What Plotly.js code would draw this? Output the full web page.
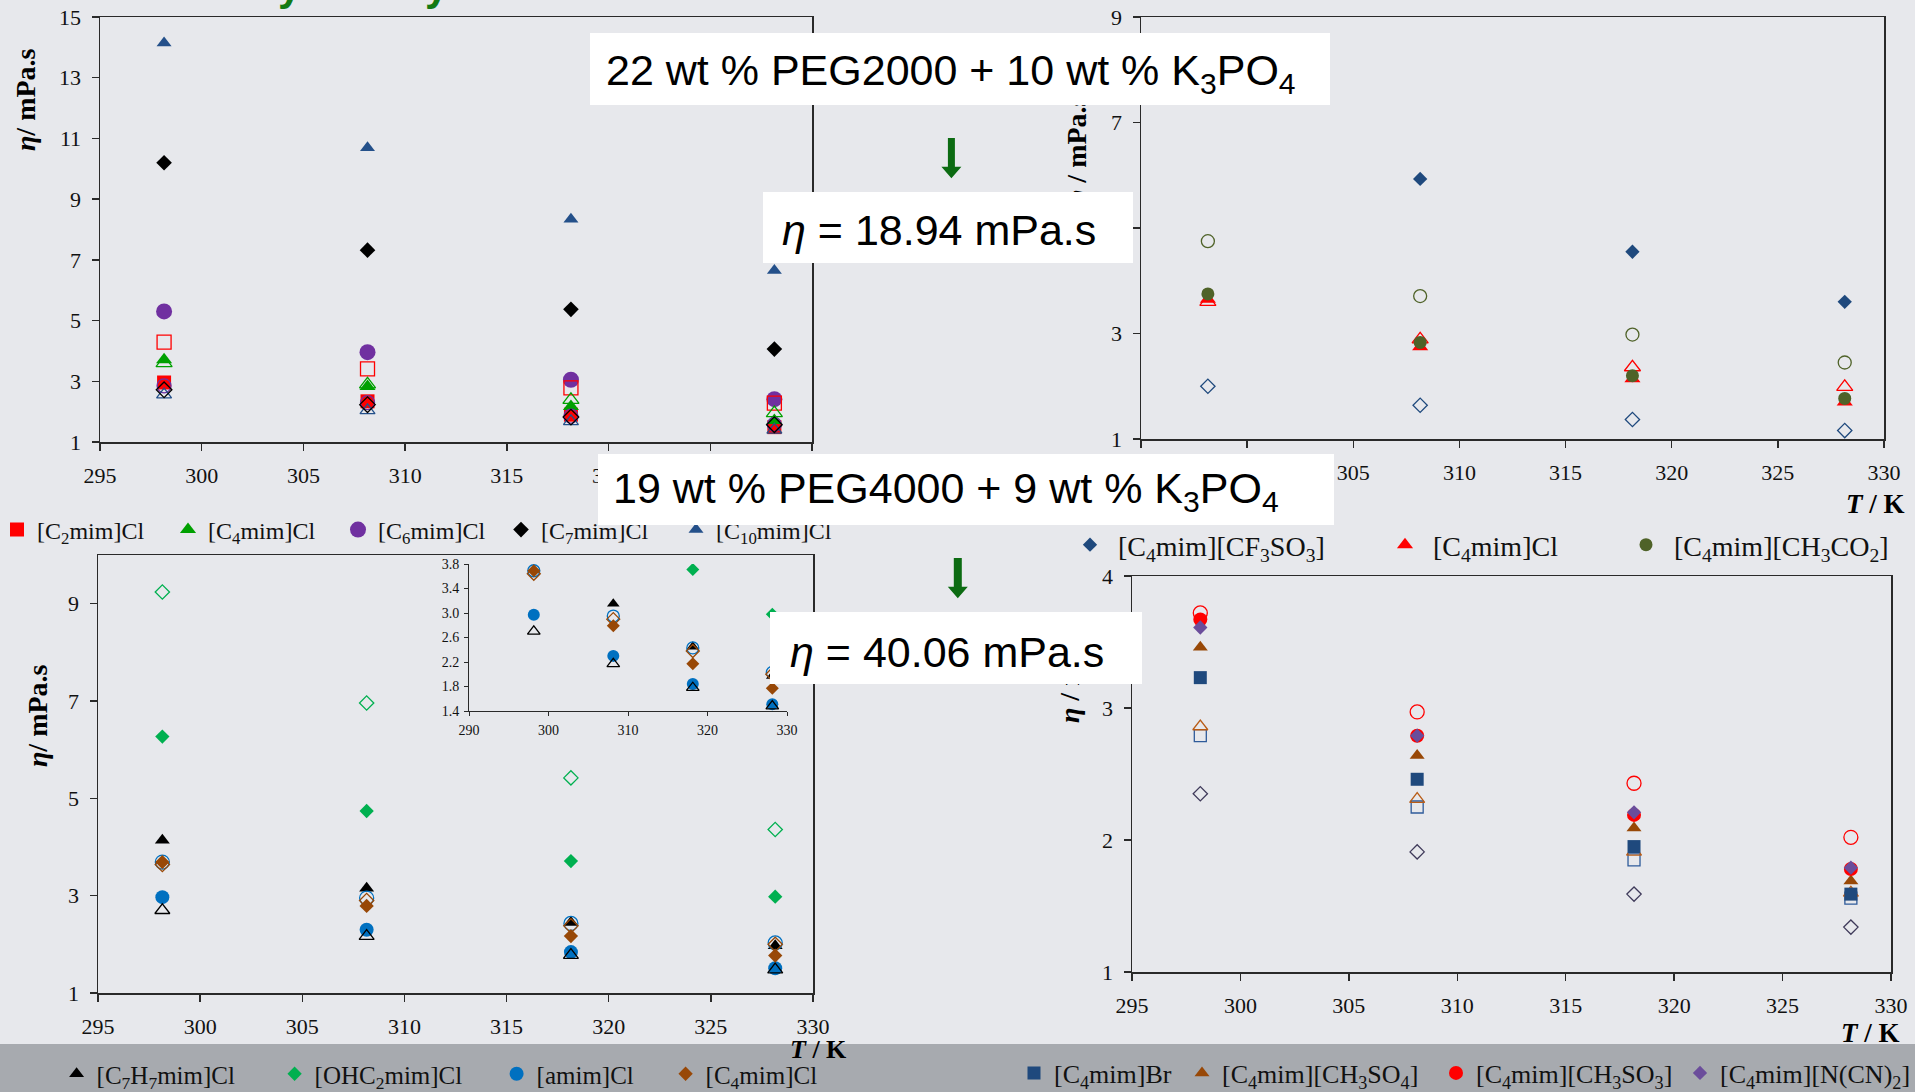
<!DOCTYPE html>
<html><head><meta charset="utf-8">
<script src="https://cdn.plot.ly/plotly-3.0.1.min.js"></script>
<style>html,body{margin:0;padding:0;background:#e7e8ec;overflow:hidden}#chart{width:1915px;height:1092px}</style>
</head><body><div id="chart"></div>
<script>
// ---------------- data (T in K, viscosity in mPa.s) ----------------
const temps = [298.15, 308.15, 318.15, 328.15];

// Panel A (top-left): chloride ILs, filled and open series
const A_C2mimCl_f  = [2.96, 2.34, 1.90, 1.49];
const A_C2mimCl_o  = [4.29, 3.41, 2.78, 2.28];
const A_C4mimCl_f  = [3.71, 2.83, 2.17, 1.71];
const A_C4mimCl_o  = [3.60, 2.90, 2.39, 1.95];
const A_C6mimCl_f  = [5.30, 3.96, 3.05, 2.41];
const A_C6mimCl_o  = [2.85, 2.30, 1.85, 1.58];
const A_C7mimCl_f  = [10.20, 7.32, 5.37, 4.06];
const A_C7mimCl_o  = [2.72, 2.23, 1.82, 1.57];
const A_C10mimCl_f = [14.14, 10.69, 8.34, 6.65];
const A_C10mimCl_o = [2.56, 2.04, 1.68, 1.40];

// Panel B (top-right): [C4mim] anions
const B_CF3SO3_f  = [null, 5.93, 4.55, 3.60];
const B_CF3SO3_o  = [2.00, 1.64, 1.37, 1.16];
const B_Cl_f      = [3.65, 2.75, 2.14, 1.70];
const B_Cl_o      = [3.60, 2.89, 2.36, 1.99];
const B_CH3CO2_f  = [3.75, 2.83, 2.20, 1.77];
const B_CH3CO2_o  = [4.75, 3.71, 2.98, 2.45];

// Panel C (bottom-left, with inset)
const C_C7H7mimCl_f = [4.14, 3.15, 2.45, 1.97];
const C_C7H7mimCl_o = [2.70, 2.17, 1.78, 1.48];
const C_OHC2mimCl_f = [6.27, 4.74, 3.71, 2.98];
const C_OHC2mimCl_o = [9.24, 6.96, 5.42, 4.36];
const C_amimCl_f    = [2.97, 2.30, 1.84, 1.51];
const C_amimCl_o    = [3.69, 2.95, 2.43, 2.03];
const C_C4mimCl_f   = [3.69, 2.79, 2.17, 1.77];
const C_C4mimCl_o   = [3.64, 2.90, 2.38, 2.00];

// Panel D (bottom-right)
const D_Br_f     = [3.23, 2.46, 1.95, 1.59];
const D_Br_o     = [2.79, 2.25, 1.85, 1.56];
const D_CH3SO4_f = [3.46, 2.64, 2.09, 1.69];
const D_CH3SO4_o = [2.86, 2.31, 1.91, 1.60];
const D_CH3SO3_f = [3.67, 2.79, 2.19, 1.78];
const D_CH3SO3_o = [3.72, 2.97, 2.43, 2.02];
const D_NCN2_f   = [3.61, 2.79, 2.21, 1.79];
const D_NCN2_o   = [2.35, 1.91, 1.59, 1.34];

// tick values / labels (labels hidden behind the white text boxes are left blank)
const tempTicks     = [295, 300, 305, 310, 315, 320, 325, 330];
const tempLabelsA   = ['295','300','305','310','315','320','',''];
const tempLabelsB   = ['','','305','310','315','320','325','330'];
const tempLabels    = ['295','300','305','310','315','320','325','330'];
const etaTicksA     = [1, 3, 5, 7, 9, 11, 13, 15];
const etaTicksB     = [1, 3, 5, 7, 9];
const etaLabelsB    = ['1','3','','7','9'];
const etaTicksC     = [1, 3, 5, 7, 9];
const etaTicksD     = [1, 2, 3, 4];
const insetTicksX   = [290, 300, 310, 320, 330];
const insetTicksY   = [1.4, 1.8, 2.2, 2.6, 3.0, 3.4, 3.8];
const insetLabelsY  = ['1.4','1.8','2.2','2.6','3.0','3.4','3.8'];

// ---------------- helpers ----------------
const W = 1915, H = 1092;
const px = v => v / W;
const py = v => 1 - v / H;
const serif = 'Liberation Serif, Times New Roman, serif';
const sans = 'Liberation Sans, Arial, sans-serif';

function mk(xa, ya, yv, sym, color, size, name, extra) {
  const open = sym.indexOf('-open') >= 0;
  return Object.assign({
    type:'scatter', mode:'markers', x: temps, y: yv, xaxis: xa, yaxis: ya, name: name,
    marker:{symbol: sym, size: size, color: color, line:{width: open ? 1.3 : 0, color: color}},
    showlegend:false, hoverinfo:'skip'
  }, extra || {});
}
function leg(l, w, rank) { const o = {showlegend:true, legend:l, legendrank:rank}; if (w) o.legendwidth = w; return o; }

const red='#ff0000', green='#00a000', purple='#7030a0', black='#000000', navy='#24508a';
const dblue='#1f497d', olive='#4f6228', brown='#984807', g2='#00b050', lblue='#0070c0';

const traces = [
  // Panel A
  mk('x','y',A_C2mimCl_f,'square',red,14,'[C<sub>2</sub>mim]Cl',leg('legend',126,1)),
  mk('x','y',A_C4mimCl_f,'triangle-up',green,14,'[C<sub>4</sub>mim]Cl',leg('legend',125,2)),
  mk('x','y',A_C6mimCl_f,'circle',purple,16,'[C<sub>6</sub>mim]Cl',leg('legend',118,3)),
  mk('x','y',A_C7mimCl_f,'diamond',black,12,'[C<sub>7</sub>mim]Cl',leg('legend',130,4)),
  mk('x','y',A_C10mimCl_f,'triangle-up',navy,13,'[C<sub>10</sub>mim]Cl',leg('legend',null,5)),
  mk('x','y',A_C2mimCl_o,'square-open',red,14,'[C2mim]Cl (open)'),
  mk('x','y',A_C6mimCl_o,'circle-open',purple,14,'[C6mim]Cl (open)'),
  mk('x','y',A_C4mimCl_o,'triangle-up-open',green,14,'[C4mim]Cl (open)'),
  mk('x','y',A_C10mimCl_o,'triangle-up-open',navy,13,'[C10mim]Cl (open)'),
  mk('x','y',A_C7mimCl_o,'diamond-open',black,12,'[C7mim]Cl (open)'),
  // Panel B
  mk('x2','y2',B_CF3SO3_f,'diamond',dblue,11,'[C<sub>4</sub>mim][CF<sub>3</sub>SO<sub>3</sub>]',leg('legend2',254,1)),
  mk('x2','y2',B_Cl_o,'triangle-up-open',red,14,'[C4mim]Cl (open)'),
  mk('x2','y2',B_Cl_f,'triangle-up',red,14,'[C<sub>4</sub>mim]Cl',leg('legend2',180,2)),
  mk('x2','y2',B_CH3CO2_f,'circle',olive,13,'[C<sub>4</sub>mim][CH<sub>3</sub>CO<sub>2</sub>]',leg('legend2',null,3)),
  mk('x2','y2',B_CH3CO2_o,'circle-open',olive,13,'[C4mim][CH3CO2] (open)'),
  mk('x2','y2',B_CF3SO3_o,'diamond-open',dblue,11,'[C4mim][CF3SO3] (open)'),
  // Panel C
  mk('x3','y3',C_C7H7mimCl_f,'triangle-up',black,13,'[C<sub>7</sub>H<sub>7</sub>mim]Cl',leg('legend3',173,1)),
  mk('x3','y3',C_OHC2mimCl_f,'diamond',g2,11,'[OHC<sub>2</sub>mim]Cl',leg('legend3',177,2)),
  mk('x3','y3',C_amimCl_f,'circle',lblue,14,'[amim]Cl',leg('legend3',124,3)),
  mk('x3','y3',C_C7H7mimCl_o,'triangle-up-open',black,13,'[C7H7mim]Cl (open)'),
  mk('x3','y3',C_OHC2mimCl_o,'diamond-open',g2,11,'[OHC2mim]Cl (open)'),
  mk('x3','y3',C_amimCl_o,'circle-open',lblue,14,'[amim]Cl (open)'),
  mk('x3','y3',C_C4mimCl_f,'diamond',brown,11,'[C<sub>4</sub>mim]Cl',leg('legend3',null,4)),
  mk('x3','y3',C_C4mimCl_o,'diamond-open',brown,11,'[C4mim]Cl (open)'),
  // Inset of panel C
  mk('x5','y5',C_C7H7mimCl_f,'triangle-up',black,11,'inset [C7H7mim]Cl'),
  mk('x5','y5',C_OHC2mimCl_f,'diamond',g2,10,'inset [OHC2mim]Cl'),
  mk('x5','y5',C_amimCl_f,'circle',lblue,12,'inset [amim]Cl'),
  mk('x5','y5',C_C7H7mimCl_o,'triangle-up-open',black,11,'inset [C7H7mim]Cl (open)'),
  mk('x5','y5',C_OHC2mimCl_o,'diamond-open',g2,10,'inset [OHC2mim]Cl (open)'),
  mk('x5','y5',C_amimCl_o,'circle-open',lblue,12,'inset [amim]Cl (open)'),
  mk('x5','y5',C_C4mimCl_f,'diamond',brown,10,'inset [C4mim]Cl'),
  mk('x5','y5',C_C4mimCl_o,'diamond-open',brown,10,'inset [C4mim]Cl (open)'),
  // Panel D
  mk('x4','y4',D_Br_o,'square-open','#2f5b9a',12,'[C4mim]Br (open)'),
  mk('x4','y4',D_CH3SO4_o,'triangle-up-open','#b85c17',13,'[C4mim][CH3SO4] (open)'),
  mk('x4','y4',D_NCN2_o,'diamond-open','#3f3a5a',11,'[C4mim][N(CN)2] (open)'),
  mk('x4','y4',D_CH3SO3_o,'circle-open',red,14,'[C4mim][CH3SO3] (open)'),
  mk('x4','y4',D_Br_f,'square',dblue,13,'[C<sub>4</sub>mim]Br',leg('legend4',123,1)),
  mk('x4','y4',D_CH3SO4_f,'triangle-up',brown,13,'[C<sub>4</sub>mim][CH<sub>3</sub>SO<sub>4</sub>]',leg('legend4',209,2)),
  mk('x4','y4',D_CH3SO3_f,'circle',red,14,'[C<sub>4</sub>mim][CH<sub>3</sub>SO<sub>3</sub>]',leg('legend4',199,3)),
  mk('x4','y4',D_NCN2_f,'diamond','#6b4d9b',11,'[C<sub>4</sub>mim][N(CN)<sub>2</sub>]',leg('legend4',null,4))
];

function ax(dom, range, vals, texts, anchor, extra) {
  return Object.assign({
    domain: dom, range: range, tickmode:'array', tickvals: vals, ticktext: texts || vals.map(String), anchor: anchor,
    showline:true, mirror:true, linecolor:'#2a2a2a', linewidth:1.5,
    ticks:'outside', ticklen:7, tickwidth:1.3, tickcolor:'#2a2a2a',
    showgrid:false, zeroline:false, fixedrange:true,
    tickfont:{family:serif, size:22, color:'#111'}, ticklabelstandoff:6
  }, extra || {});
}
const inset = {mirror:false, linewidth:1, ticklen:4, tickwidth:1, ticklabelstandoff:2, tickfont:{family:serif,size:14,color:'#111'}};

function legendBox(xLeft, yMid, size, iw) {
  return {x:px(xLeft), y:py(yMid), xanchor:'left', yanchor:'middle', orientation:'h',
    bgcolor:'rgba(0,0,0,0)', borderwidth:0, itemwidth: iw || 30, traceorder:'normal',
    font:{family:serif, size:size, color:'#111'}, itemclick:false, itemdoubleclick:false};
}

function note(text, cx, cy, size, extra) {
  return Object.assign({xref:'paper', yref:'paper', x:px(cx), y:py(cy), xanchor:'center', yanchor:'middle',
    text:text, showarrow:false, font:{family:serif, size:size, color:'#000'}}, extra || {});
}
function box(x0, y0, x1, y1) {
  return {xref:'paper', yref:'paper', x:px(x0), y:py(y0), xanchor:'left', yanchor:'top',
    text:' ', showarrow:false, bgcolor:'#ffffff', borderpad:0, borderwidth:0,
    width:(x1-x0), height:(y1-y0)};
}
function arrowPath(cx, top, neck, tip, sw, hw) {
  const p = [[cx-sw/2,top],[cx+sw/2,top],[cx+sw/2,neck],[cx+hw/2,neck],[cx,tip],[cx-hw/2,neck],[cx-sw/2,neck]];
  return 'M' + p.map(q => px(q[0]) + ',' + py(q[1])).join(' L') + ' Z';
}
const arrowGreen = '#0c6b12';

const ytitleA = '<b><i>η</i>/ mPa.s</b>';
const ytitleB = '<b><i>η</i> / mPa.s</b>';
const xtitle = '<b><i>T</i> / K</b>';
const boxFont = {family:sans, size:43, color:'#000'};

const layout = {
  width:W, height:H, margin:{l:0,r:0,t:0,b:0,autoexpand:false},
  paper_bgcolor:'#e7e8ec', plot_bgcolor:'rgba(0,0,0,0)', showlegend:true,
  xaxis:  ax([px(100),px(812)], [295,330], tempTicks, tempLabelsA, 'y'),
  yaxis:  ax([py(442),py(17)], [1,15], etaTicksA, null, 'x'),
  xaxis2: ax([px(1141),px(1884)], [295,330], tempTicks, tempLabelsB, 'y2'),
  yaxis2: ax([py(439),py(17)], [1,9], etaTicksB, etaLabelsB, 'x2'),
  xaxis3: ax([px(98),px(813)], [295,330], tempTicks, tempLabels, 'y3'),
  yaxis3: ax([py(993),py(555)], [1,10], etaTicksC, null, 'x3'),
  xaxis4: ax([px(1132),px(1891)], [295,330], tempTicks, tempLabels, 'y4'),
  yaxis4: ax([py(972),py(576)], [1,4], etaTicksD, null, 'x4'),
  xaxis5: ax([px(469),px(787)], [290,330], insetTicksX, null, 'y5', inset),
  yaxis5: ax([py(711),py(564)], [1.4,3.8], insetTicksY, insetLabelsY, 'x5', inset),
  legend:  legendBox(17-20, 530, 24),
  legend2: legendBox(1090-28, 545, 28, 46),
  legend3: legendBox(76.6-20, 1074, 25),
  legend4: legendBox(1054-40, 1073, 26),
  shapes: [
    {type:'rect', xref:'paper', yref:'paper', x0:0, x1:1, y0:0, y1:py(1044), fillcolor:'#a7aaaf', line:{width:0}, layer:'below'},
    {type:'path', xref:'paper', yref:'paper', path:arrowPath(951.4,138,166.7,178.3,7,20), fillcolor:arrowGreen, line:{width:0}, layer:'above'},
    {type:'path', xref:'paper', yref:'paper', path:arrowPath(957.8,558,586.7,598.3,8,20), fillcolor:arrowGreen, line:{width:0}, layer:'above'}
  ],
  annotations: [
    note('y', 290, 0, 42, {yanchor:'bottom', y:py(11), font:{family:sans, size:42, color:'#137a13', weight:'bold'}}),
    note('y', 437, 0, 42, {yanchor:'bottom', y:py(11), font:{family:sans, size:42, color:'#137a13', weight:'bold'}}),
    note(ytitleA, 25, 100, 28, {textangle:-90}),
    note(ytitleB, 1077, 150, 28, {textangle:-90}),
    note(ytitleA, 37, 716, 28, {textangle:-90}),
    note(ytitleB, 1069, 668, 28, {textangle:-90}),
    note(xtitle, 1875, 504, 27),
    note(xtitle, 818, 1049, 26),
    note(xtitle, 1870, 1033, 27),
    box(590, 33, 1330, 105),
    box(763, 192, 1133, 263),
    box(598, 454, 1334, 525),
    box(770, 612, 1142, 684),
    note('22 wt % PEG2000 + 10 wt % K<sub>3</sub>PO<sub>4</sub>', 951, 73, 43, {font:boxFont}),
    note('<i>η</i> = 18.94 mPa.s', 939, 230, 43, {font:boxFont}),
    note('19 wt % PEG4000 + 9 wt % K<sub>3</sub>PO<sub>4</sub>', 946, 491, 43, {font:boxFont}),
    note('<i>η</i> = 40.06 mPa.s', 947, 652, 43, {font:boxFont})
  ]
};

Plotly.newPlot('chart', traces, layout, {displayModeBar:false, staticPlot:true});
</script></body></html>
